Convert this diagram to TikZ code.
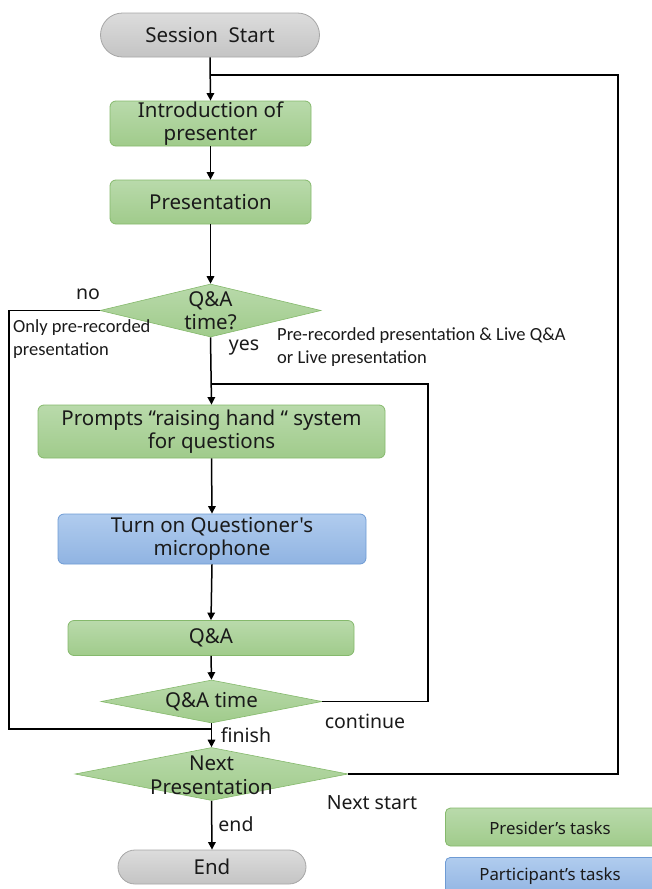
\documentclass[tikz,border=0pt]{standalone}
\usepackage{fontspec}
\setmainfont{Noto Sans}[Ligatures=TeXOff]
\newfontfamily\calfont{Carlito}
\usetikzlibrary{shapes.geometric,arrows.meta}
\definecolor{gtop}{HTML}{B9DAAB}
\definecolor{gbot}{HTML}{A0CB8B}
\definecolor{gline}{HTML}{85B96C}
\definecolor{btop}{HTML}{B0CCEE}
\definecolor{bbot}{HTML}{90B3E2}
\definecolor{bline}{HTML}{6E9BD4}
\definecolor{stop}{HTML}{DCDCDC}
\definecolor{sbot}{HTML}{C4C4C4}
\definecolor{sline}{HTML}{A6A6A6}
\definecolor{txt}{HTML}{1A1A1A}
\begin{document}
\begin{tikzpicture}[x=1pt,y=-1pt,
  every node/.style={text=txt},
  mainfont/.style={font=\fontsize{20.5}{23.5}\selectfont},
  greenbox/.style={draw=gline,line width=0.8pt,rounded corners=6pt,top color=gtop,bottom color=gbot,inner sep=0pt,align=center,mainfont},
  bluebox/.style={draw=bline,line width=0.8pt,rounded corners=6pt,top color=btop,bottom color=bbot,inner sep=0pt,align=center,mainfont},
  terminal/.style={draw=sline,line width=0.8pt,rounded corners=22pt,top color=stop,bottom color=sbot,inner sep=0pt,align=center,mainfont},
  dia/.style={diamond,draw=gline,line width=0.6pt,top color=gtop,bottom color=gbot,inner sep=0pt,aspect=1},
  diatext/.style={align=center,mainfont,inner sep=0pt},
  conn/.style={line width=1.5pt,draw=black},
  arr/.style={conn,-{Triangle[length=7.5pt,width=7.5pt]}},
  lbl/.style={font=\fontsize{19.5}{23}\selectfont,inner sep=0pt},
  cal/.style={font=\calfont\fontsize{18.5}{23}\selectfont,inner sep=0pt,align=left},
  legendfont/.style={font=\fontsize{16.8}{20}\selectfont}
]
\useasboundingbox (0,0) rectangle (652,889);

% nodes
\node[terminal,minimum width=219pt,minimum height=44pt] (ss) at (210,35) {Session\ \ Start};
\node[greenbox,minimum width=201pt,minimum height=45pt] (intro) at (210.5,123.5) {Introduction of\\presenter};
\node[greenbox,minimum width=201pt,minimum height=44pt] (pres) at (210.5,202) {Presentation};
\node[dia,minimum width=221pt,minimum height=53pt] (q1) at (210.5,310.5) {};
\node[diatext] (q1t) at (q1) {Q\&A\\time?};
\node[greenbox,minimum width=347pt,minimum height=53pt] (prompt) at (211.5,431.5) {Prompts “raising hand “ system\\for questions};
\node[bluebox,minimum width=308pt,minimum height=50pt] (turn) at (212,539) {Turn on Questioner's\\microphone};
\node[greenbox,minimum width=286pt,minimum height=35pt] (qa) at (211,638) {Q\&A};
\node[dia,minimum width=221pt,minimum height=43pt] (q2) at (211.5,701.5) {};
\node[diatext] (q2t) at (q2) {Q\&A time};
\node[dia,minimum width=273pt,minimum height=53pt] (np) at (211.5,774) {};
\node[diatext] (npt) at ([yshift=-1.5pt]np.center) {Next\\Presentation};
\node[terminal,rounded corners=17pt,minimum width=188pt,minimum height=34pt] (endn) at (212,867) {End};

% legend
\node[greenbox,rounded corners=5pt,minimum width=230pt,minimum height=38pt,legendfont,anchor=west] (leg1) at (445,827) {};
\node[legendfont] (leg1t) at (550,828) {Presider’s tasks};
\node[bluebox,rounded corners=5pt,minimum width=230pt,minimum height=40pt,legendfont,anchor=north west] (leg2) at (445,857) {};
\node[legendfont] (leg2t) at (550,876) {Participant’s tasks};

% labels
\node[lbl] (no) at (88,294) {no};
\node[lbl] (yes) at (244,348) {yes};
\node[cal,anchor=north west] (only) at (13,319) {Only pre-recorded\\presentation};
\node[cal,anchor=north west] (live) at (277,327.5) {Pre-recorded presentation \& Live Q\&A\\or Live presentation};
\node[lbl] (cont) at (365,721) {continue};
\node[lbl] (fin) at (246,735) {finish};
\node[lbl] (nst) at (372,803) {Next start};
\node[lbl] (endl) at (236,824) {end};

% junction coordinates
\coordinate (j1) at (211,75);
\coordinate (j2) at (211,384);
\coordinate (j3) at (211,729);
\coordinate (cL) at (9,729);
\coordinate (cR) at (428,384);
\coordinate (cNR) at (618,75);

% connectors
\draw[arr] (ss.south) -- (intro.north);
\draw[arr] (intro.south) -- (pres.north);
\draw[arr] (pres.south) -- (q1.north);
\draw[arr] (q1.south) -- (prompt.north);
\draw[arr] (prompt.south) -- (turn.north);
\draw[arr] (turn.south) -- (qa.north);
\draw[arr] (qa.south) -- (q2.north);
\draw[arr] (q2.south) -- (np.north);
\draw[arr] (np.south) -- (endn.north);
\draw[conn] (q1.west) -| (cL) -- (j3);
\draw[conn] (q2.east) -| (cR) -- (j2);
\draw[conn] (np.east) -| (cNR) -- (j1);
\end{tikzpicture}
\end{document}
